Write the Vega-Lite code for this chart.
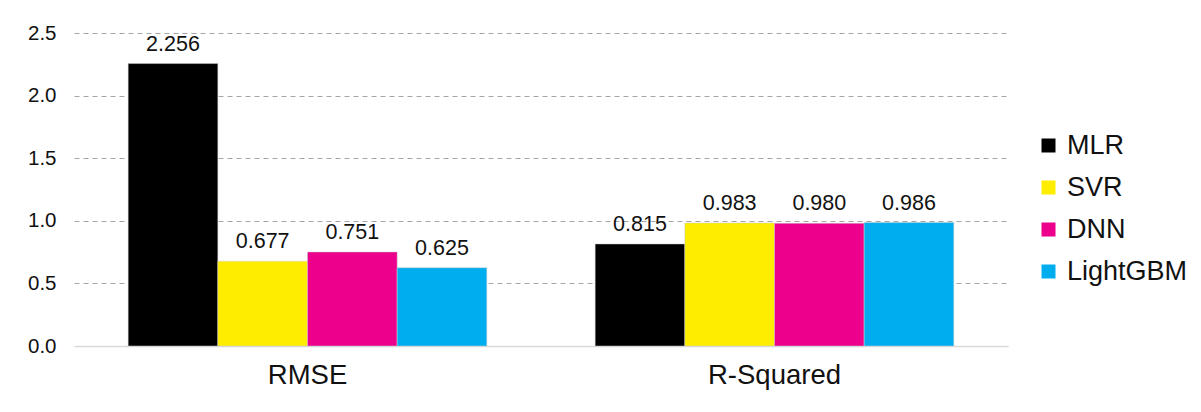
{
  "$schema": "https://vega.github.io/schema/vega-lite/v6.json",
  "autosize": "none",
  "width": 934,
  "height": 313,
  "padding": {"left": 74, "top": 33, "right": 193, "bottom": 66},
  "background": "white",
  "config": {
    "font": "Liberation Sans",
    "view": {"stroke": null}
  },
  "data": {
    "values": [
      {"metric": "RMSE", "model": "MLR", "value": 2.256, "label": "2.256"},
      {"metric": "RMSE", "model": "SVR", "value": 0.677, "label": "0.677"},
      {"metric": "RMSE", "model": "DNN", "value": 0.751, "label": "0.751"},
      {"metric": "RMSE", "model": "LightGBM", "value": 0.625, "label": "0.625"},
      {"metric": "R-Squared", "model": "MLR", "value": 0.815, "label": "0.815"},
      {"metric": "R-Squared", "model": "SVR", "value": 0.983, "label": "0.983"},
      {"metric": "R-Squared", "model": "DNN", "value": 0.980, "label": "0.980"},
      {"metric": "R-Squared", "model": "LightGBM", "value": 0.986, "label": "0.986"}
    ]
  },
  "encoding": {
    "x": {
      "field": "metric",
      "type": "nominal",
      "sort": ["RMSE", "R-Squared"],
      "scale": {"paddingInner": 0.232, "paddingOuter": 0.116},
      "axis": {
        "title": null,
        "labelAngle": 0,
        "labelFontSize": 27.5,
        "labelColor": "#111111",
        "labelPadding": 15,
        "ticks": false,
        "domainColor": "#d9d9d9",
        "domainWidth": 1.5
      }
    },
    "xOffset": {
      "field": "model",
      "type": "nominal",
      "sort": ["MLR", "SVR", "DNN", "LightGBM"],
      "scale": {"paddingInner": 0, "paddingOuter": 0}
    },
    "y": {
      "field": "value",
      "type": "quantitative",
      "scale": {"domain": [0, 2.5]},
      "axis": {
        "title": null,
        "values": [0, 0.5, 1, 1.5, 2, 2.5],
        "format": ".1f",
        "labelFontSize": 20.5,
        "labelColor": "#111111",
        "labelPadding": 18,
        "domain": false,
        "ticks": false,
        "grid": true,
        "gridColor": {"condition": {"test": "datum.value === 0", "value": "#d9d9d9"}, "value": "#a6a6a6"},
        "gridDash": {"condition": {"test": "datum.value === 0", "value": []}, "value": [5, 4]},
        "gridWidth": 1.2
      }
    }
  },
  "layer": [
    {
      "mark": {"type": "bar", "stroke": "#cccccc", "strokeWidth": 0.5},
      "encoding": {
        "color": {
          "field": "model",
          "type": "nominal",
          "sort": ["MLR", "SVR", "DNN", "LightGBM"],
          "scale": {
            "domain": ["MLR", "SVR", "DNN", "LightGBM"],
            "range": ["#000000", "#FFED00", "#EC008C", "#00AEEF"]
          },
          "legend": {
            "title": null,
            "orient": "none",
            "legendX": 961,
            "legendY": 99,
            "symbolType": "square",
            "symbolSize": 196,
            "symbolStrokeWidth": 0,
            "labelFontSize": 27,
            "labelColor": "#111111",
            "labelOffset": 5,
            "rowPadding": 14
          }
        }
      }
    },
    {
      "mark": {"type": "text", "baseline": "bottom", "dy": -8, "fontSize": 21.5, "color": "#111111"},
      "encoding": {
        "text": {"field": "label", "type": "nominal"}
      }
    }
  ]
}
